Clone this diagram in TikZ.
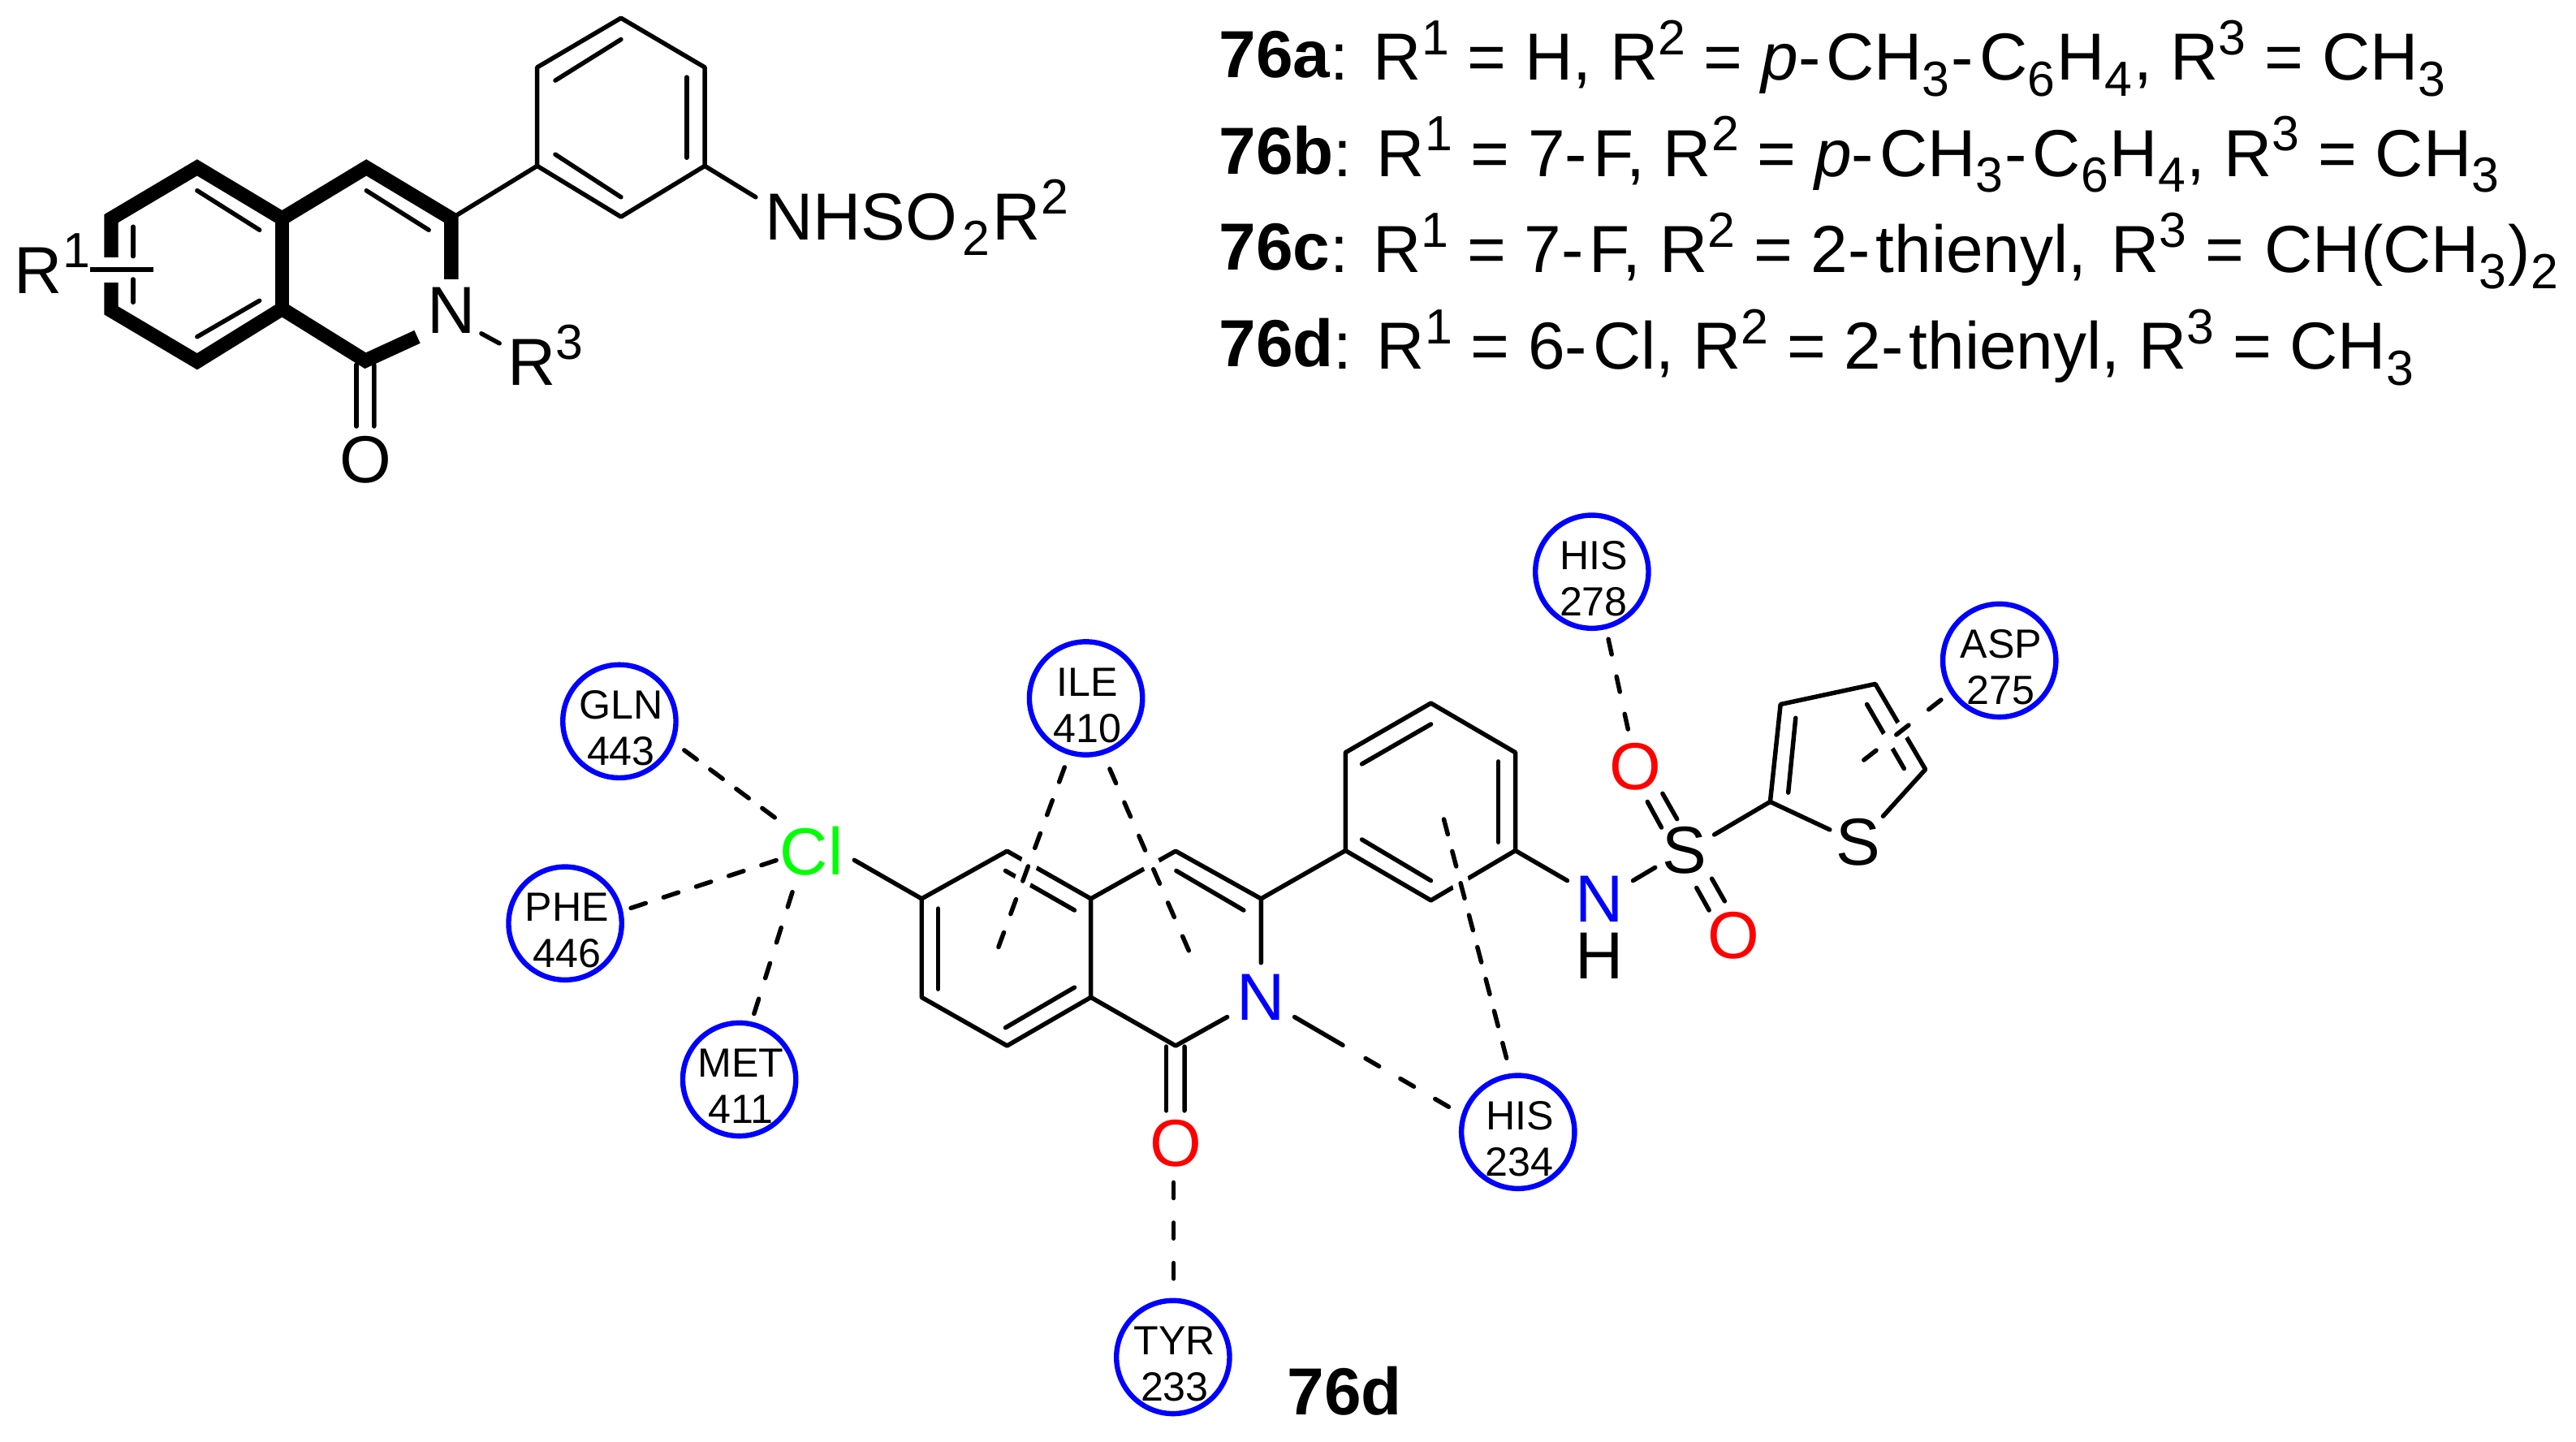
\documentclass[tikz,border=0pt]{standalone}
\usepackage{fontspec}
\setmainfont{Liberation Sans}
\newcommand{\supn}[1]{\raisebox{.156cm}{\fontsize{8.54}{10}\selectfont #1}}
\newcommand{\subn}[1]{\raisebox{-.095cm}{\fontsize{8.54}{10}\selectfont #1}\kern.01cm}
\newcommand{\cmpd}[1]{\raisebox{.015cm}{\textbf{#1}}}
\newcommand{\hy}{-\kern.035cm}
\newcommand{\residue}[5]{%
  \node[resring] (#1) at (#2,#3) {};
  \node[restext] (#1-a) at ([shift={(1,-10)}]#1.center) {#4};
  \node[restext] (#1-b) at ([shift={(1,18.4)}]#1.center) {#5};
}
\tikzset{
  atomlabel/.style={inner sep=0pt,outer sep=0pt,font=\fontsize{11.52}{13}\selectfont},
  textline/.style={atomlabel,anchor=base west},
  resring/.style={circle,draw=blue,line width=.9pt,minimum size=.688cm,inner sep=0pt,outer sep=0pt},
  restext/.style={inner sep=0pt,outer sep=0pt,font=\fontsize{7.05}{8}\selectfont},
  bond/.style={line width=.77pt,line cap=round,line join=round},
  heavy/.style={line width=2.45pt,line cap=butt,line join=miter,miter limit=20},
  contact/.style={line width=.77pt,line cap=round,dash pattern=on .95mm off #1mm},
  crossing/.style={contact=#1,preaction={draw=white,line width=2.9pt,solid,line cap=butt}},
}
\begin{document}
\begin{tikzpicture}[x=0.01cm,y=-0.01cm]
\useasboundingbox (0,0) rectangle (1568,877.6);

% ---------- upper scaffold ----------
\node[atomlabel] (tN) at (275,189) {N};
\node[atomlabel] (tO) at (222.4,280) {O};
\node[textline] (tR1) at (8.8,178.7) {R\supn{1}};
\node[textline] (tR3) at (309.2,234.5) {R\supn{3}};
\node[textline] (tNH) at (465.6,146) {NHSO\kern.03cm\subn{2}\kern.01cm R\supn{2}};

\coordinate (ua) at (120,102);
\coordinate (ub) at (171.7,133);
\coordinate (uc) at (171.7,188);
\coordinate (ud) at (120,220);
\coordinate (ue) at (67.7,189);
\coordinate (uf) at (67.7,133);
\coordinate (ug) at (223,102);
\coordinate (uh) at (274.7,133);
\coordinate (ui) at (222.4,219.5);
\coordinate (ufb) at (67.7,156.6);
\coordinate (ueb) at (67.7,172);
\coordinate (r1end) at (93.4,164);

\draw[heavy] (ufb) -- (uf) -- (ua) -- (ub) -- (ug) -- (uh) -- ([shift={(-.3,-19)}]tN.center);
\draw[heavy] (ueb) -- (ue) -- (ud) -- (uc) -- (ui) -- ([shift={(-21,16)}]tN.center);
\draw[heavy] (ub) -- (uc);

\draw[bond] (120,116) -- (158,140);
\draw[bond] (120,205) -- (158,183);
\draw[bond] (81,138) -- (81,156);
\draw[bond] (81,170) -- (81,184);
\draw[bond] (223,116) -- (261,140);
\draw[bond,line cap=butt] ([shift={(46.2,-14.7)}]tR1.base west) -- (r1end);
\draw[bond] ([shift={(18,14)}]tN.center) -- ([shift={(-5.2,-25.5)}]tR3.base west);
\draw[bond] ([shift={(-5.4,-20.5)}]tO.center) -- (217,222);
\draw[bond] ([shift={(5.3,-20.5)}]tO.center) -- (227.7,222);

\coordinate (pa) at (378,11);
\coordinate (pb) at (429,41);
\coordinate (pc) at (429,101);
\coordinate (pd) at (378,132);
\coordinate (pe) at (327,101);
\coordinate (pf) at (327,41);
\draw[bond] (pa) -- (pb) -- (pc) -- (pd) -- (pe) -- (pf) -- cycle;
\draw[bond] (378,24) -- (338,49);
\draw[bond] (418,47) -- (418,96);
\draw[bond] (338,94) -- (378,120);
\draw[bond] (uh) -- (pe);
\draw[bond] (pc) -- ([shift={(-5.6,-26)}]tNH.base west);

% ---------- series list ----------
\node[textline] (la) at (742,48.9) {\cmpd{76a}: R\supn{1} = H, R\supn{2} = \textit{p}\hy CH\subn{3}\hy C\subn{6}H\subn{4}, R\supn{3} = CH\subn{3}};
\node[textline] (lb) at (742,107.4) {\cmpd{76b}: R\supn{1} = 7\hy F, R\supn{2} = \textit{p}\hy CH\subn{3}\hy C\subn{6}H\subn{4}, R\supn{3} = CH\subn{3}};
\node[textline] (lc) at (742,166) {\cmpd{76c}: R\supn{1} = 7\hy F, R\supn{2} = 2\hy thienyl,\kern.035cm{} R\supn{3} = \kern.015cm CH(CH\subn{3})\subn{2}};
\node[textline] (ld) at (742,224.8) {\cmpd{76d}: R\supn{1} = 6\hy Cl, R\supn{2} = 2\hy thienyl, R\supn{3} = CH\subn{3}};

% ---------- docked ligand ----------
\node[atomlabel,green] (Cl) at (494,518) {Cl};
\node[atomlabel,blue] (N1) at (767.6,607) {N};
\node[atomlabel,red] (O1) at (715.6,696) {O};
\node[atomlabel,blue] (N2) at (973.5,547) {N};
\node[atomlabel] (H2) at (973.5,582) {H};
\node[atomlabel] (S1) at (1025.5,517.7) {S};
\node[atomlabel,red] (O2) at (995.5,466.5) {O};
\node[atomlabel,red] (O3) at (1055,569.4) {O};
\node[atomlabel] (S2) at (1131,512.7) {S};
\node[textline,font=\fontsize{11.52}{13}\selectfont\bfseries] (title) at (783.5,861) {76d};

\residue{gln}{377}{439}{GLN}{443}
\residue{phe}{344}{562}{PHE}{446}
\residue{met}{450}{657}{MET}{411}
\residue{ile}{661}{425}{ILE}{410}
\residue{tyr}{714}{826}{TYR}{233}
\residue{hisa}{924}{689}{HIS}{234}
\residue{hisb}{969}{348}{HIS}{278}
\residue{asp}{1217}{402}{ASP}{275}

\coordinate (ra) at (613,518);
\coordinate (rb) at (664,547);
\coordinate (rc) at (664,607);
\coordinate (rd) at (613,636.5);
\coordinate (re) at (561,607);
\coordinate (rf) at (561,547);
\coordinate (rg) at (715.6,518);
\coordinate (rh) at (767.6,547);
\coordinate (ri) at (715.6,636.5);
\coordinate (qa) at (871,428);
\coordinate (qb) at (922.4,458);
\coordinate (qc) at (922.4,517.7);
\coordinate (qd) at (871,548);
\coordinate (qe) at (819,517.7);
\coordinate (qf) at (819,458);
\coordinate (tc) at (1077.5,488);
\coordinate (td) at (1083.8,428.7);
\coordinate (te) at (1141.5,416.3);
\coordinate (tf) at (1172,468.3);
\coordinate (ilel) at (607,578.5);
\coordinate (iler) at (724.5,580.6);
\coordinate (hisf) at (877,491.5);
\coordinate (aspf) at (1132.7,464);

\draw[bond] (ra) -- (rb) -- (rc) -- (rd) -- (re) -- (rf) -- cycle;
\draw[bond] (612,530) -- (654,554);
\draw[bond] (571,553) -- (571,602);
\draw[bond] (612,625.5) -- (654,601);
\draw[bond] (rb) -- (rg) -- (rh) -- ([shift={(0,-21)}]N1.center);
\draw[bond] (716,530) -- (757,554);
\draw[bond] (rc) -- (ri) -- ([shift={(-20.6,12)}]N1.center);
\draw[bond] ([shift={(26,5.5)}]Cl.center) -- (rf);
\draw[bond] (710,637) -- ([shift={(-5.6,-20)}]O1.center);
\draw[bond] (721,637) -- ([shift={(5.4,-20)}]O1.center);
\draw[bond] (rh) -- (qe);
\draw[bond] (qa) -- (qb) -- (qc) -- (qd) -- (qe) -- (qf) -- cycle;
\draw[bond] (871,440.8) -- (829,465);
\draw[bond] (912,463.5) -- (912,512.6);
\draw[bond] (829,511) -- (871,536);
\draw[bond] (qc) -- ([shift={(-19.5,-11)}]N2.center);
\draw[bond] ([shift={(20.5,-11)}]N2.center) -- ([shift={(-18,10.3)}]S1.center);
\draw[bond] ([shift={(7.3,21.5)}]O2.center) -- ([shift={(-14.2,-14.1)}]S1.center);
\draw[bond] ([shift={(16.5,16.5)}]O2.center) -- ([shift={(-4.7,-19.2)}]S1.center);
\draw[bond] ([shift={(7.2,22.7)}]S1.center) -- ([shift={(-14.7,-15.4)}]O3.center);
\draw[bond] ([shift={(16.5,17.1)}]S1.center) -- ([shift={(-5.2,-20.9)}]O3.center);
\draw[bond] ([shift={(18,-9.7)}]S1.center) -- (tc);
\draw[bond] ([shift={(-17.2,-7.7)}]S2.center) -- (tc) -- (td) -- (te) -- (tf) -- ([shift={(15.2,-15.9)}]S2.center);
\draw[bond] (1093,437) -- (1088.5,482.4);
\draw[bond] (1136.4,428.7) -- (1159,467.8);

% ---------- contacts ----------
\draw[contact=1.02] ([shift={(39.5,17.6)}]gln.center) -- ([shift={(-20.5,-19)}]Cl.center);
\draw[contact=1.14] ([shift={(40,-9.3)}]phe.center) -- ([shift={(-19.3,4.9)}]Cl.center);
\draw[contact=1.32] ([shift={(9,-40)}]met.center) -- ([shift={(-11,22.8)}]Cl.center);
\draw[crossing=1.19] ([shift={(-13,42)}]ile.center) -- (ilel);
\draw[crossing=1.27] ([shift={(14.5,43)}]ile.center) -- (iler);
\draw[contact=1.5] ([shift={(-1.2,23.7)}]O1.center) -- ([shift={(.4,-45)}]tyr.center);
\draw[bond,dash pattern=on 3.4mm off 1.6mm on .95mm off 1.5mm on .95mm off 1.5mm on .95mm] ([shift={(20.4,12)}]N1.center) -- ([shift={(-37,-12.3)}]hisa.center);
\draw[crossing=1.06] ([shift={(-7,-45)}]hisa.center) -- (hisf);
\draw[contact=1.38] ([shift={(10,41)}]hisb.center) -- ([shift={(-4,-20.2)}]O2.center);
\draw[crossing=1.55] ([shift={(-35.5,24)}]asp.center) -- (aspf);
\end{tikzpicture}
\end{document}
